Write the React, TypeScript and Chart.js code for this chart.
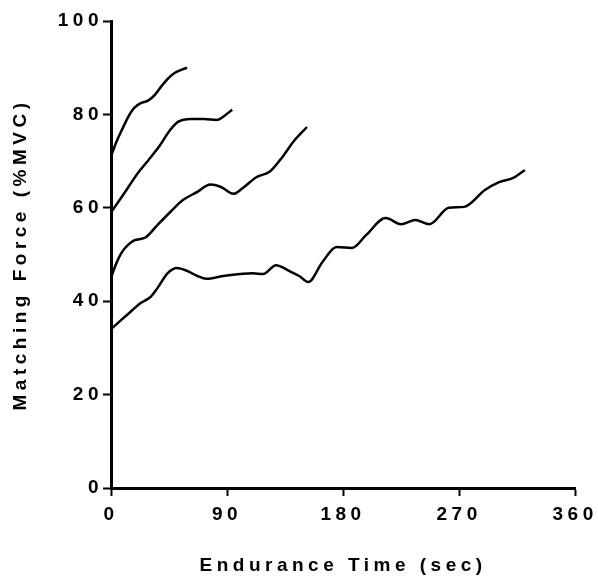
import { useEffect, useRef } from "react";
import { Chart, registerables } from "chart.js";

Chart.register(...registerables);

// Axis ranges / ticks
const xMin = 0;
const xMax = 360;
const xStep = 90;
const yMin = 0;
const yMax = 100;
const yStep = 20;

const xTitle = "Endurance Time (sec)";
const yTitle = "Matching Force (%MVC)";

// Curve 1 (highest target force)
const curve1X = [0, 4, 9, 14, 18, 23, 29, 34, 39, 44, 49, 54, 59];
const curve1Y = [71, 74, 77, 79.8, 81.4, 82.4, 83, 84.2, 86, 87.6, 88.8, 89.5, 90];

// Curve 2
const curve2X = [0, 5, 10, 16, 21, 29, 37, 46, 52, 62, 72, 82, 87, 94];
const curve2Y = [59, 61, 63, 65.5, 67.5, 70.2, 73, 76.7, 78.4, 79, 79, 78.8, 79.5, 81];

// Curve 3
const curve3X = [0, 4, 8, 13, 18, 27, 36, 46, 56, 67, 77, 85, 95, 102, 113, 123, 133, 141, 152];
const curve3Y = [45, 48, 50.3, 52, 53, 53.7, 56.3, 59.1, 61.7, 63.4, 65, 64.5, 63, 64.2, 66.6, 67.7, 70.9, 74, 77.3];

// Curve 4 (lowest target force)
const curve4X = [0, 8, 15, 23, 31, 36, 44, 51, 59, 67, 74, 87, 100, 110, 118, 128, 138, 146, 153, 164, 175, 187, 198, 213, 225, 236, 247, 262, 274, 290, 301, 312, 321];
const curve4Y = [34, 36, 37.7, 39.6, 41, 42.8, 46, 47.1, 46.5, 45.4, 44.8, 45.4, 45.8, 46, 45.8, 47.7, 46.5, 45.4, 44.1, 48.4, 51.6, 51.4, 54.2, 57.8, 56.5, 57.4, 56.5, 60, 60.2, 63.8, 65.5, 66.4, 68.1];

const curves = [
  [curve1X, curve1Y],
  [curve2X, curve2Y],
  [curve3X, curve3Y],
  [curve4X, curve4Y],
];

const FONT_FAMILY = "'Liberation Sans', Arial, Helvetica, sans-serif";

export default function App() {
  const ref = useRef<HTMLCanvasElement>(null);

  useEffect(() => {
    document.body.style.margin = "0";
    const spacingPlugin = {
      id: "letterSpacing",
      beforeDraw(chart: any) {
        chart.ctx.letterSpacing = "4.5px";
      },
    };

    const chart = new Chart(ref.current!, {
      type: "line",
      data: {
        datasets: curves.map(([xs, ys]) => ({
          data: xs.map((x, i) => ({ x, y: ys[i] })),
          borderColor: "#000",
          borderWidth: 2.5,
          pointRadius: 0,
          fill: false,
          tension: 0.4,
          cubicInterpolationMode: "monotone" as const,
        })),
      },
      options: {
        animation: false,
        responsive: true,
        maintainAspectRatio: false,
        layout: { padding: { top: 21, right: 22, left: 0, bottom: 0 } },
        plugins: {
          legend: { display: false },
          tooltip: { enabled: false },
        },
        scales: {
          x: {
            type: "linear",
            min: xMin,
            max: xMax,
            afterFit(scale: any) {
              scale.height = 89;
            },
            ticks: {
              stepSize: xStep,
              autoSkip: false,
              maxRotation: 0,
              padding: 7,
              color: "#000",
              font: { family: FONT_FAMILY, size: 19, weight: "bold" },
            },
            grid: {
              drawOnChartArea: false,
              drawTicks: true,
              tickLength: 8,
              tickWidth: 2,
              tickColor: "#000",
            },
            border: { display: true, color: "#000", width: 3 },
            title: {
              display: true,
              text: xTitle,
              color: "#000",
              font: { family: FONT_FAMILY, size: 19, weight: "bold", lineHeight: 1.2 },
              padding: { top: 0, bottom: 0 },
            },
          },
          y: {
            type: "linear",
            min: yMin,
            max: yMax,
            afterFit(scale: any) {
              scale.width = 111;
            },
            ticks: {
              stepSize: yStep,
              autoSkip: false,
              padding: 0,
              color: "#000",
              font: { family: FONT_FAMILY, size: 19, weight: "bold" },
            },
            grid: {
              drawOnChartArea: false,
              drawTicks: true,
              tickLength: 8,
              tickWidth: 2,
              tickColor: "#000",
            },
            border: { display: true, color: "#000", width: 3 },
            title: {
              display: true,
              text: yTitle,
              color: "#000",
              font: { family: FONT_FAMILY, size: 19, weight: "bold", lineHeight: 1.2 },
              padding: { top: 9, bottom: 0 },
            },
          },
        },
      },
      plugins: [spacingPlugin],
    });

    return () => chart.destroy();
  }, []);

  return (
    <div style={{ width: 598, height: 577 }}>
      <canvas ref={ref} />
    </div>
  );
}
